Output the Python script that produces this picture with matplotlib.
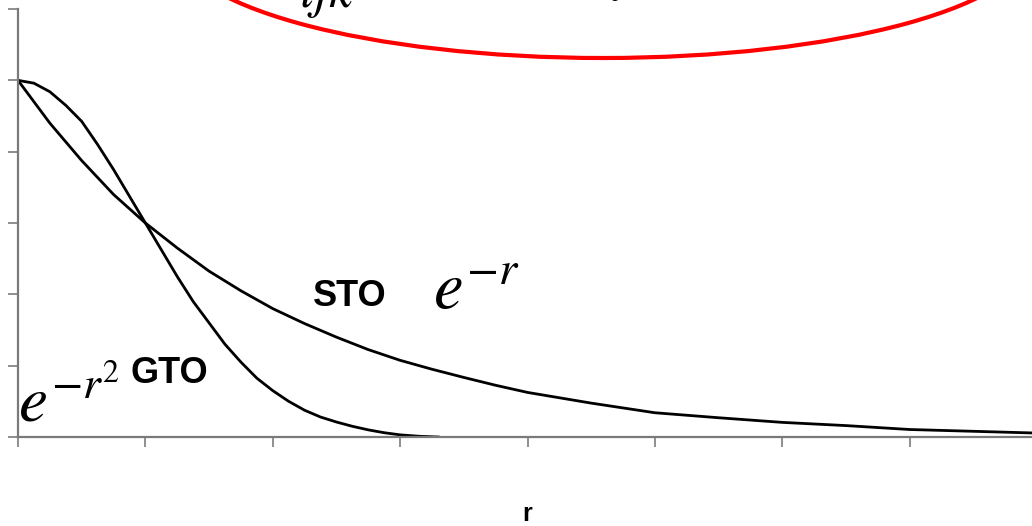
import matplotlib.pyplot as plt
from matplotlib.patches import Ellipse

# radius values (tick units) and the two basis functions
r_sto = [0, 0.25, 0.5, 0.75, 1.0, 1.25, 1.5, 1.75, 2.0, 2.25, 2.5, 2.75, 3.0, 3.25,
         3.5, 3.75, 4.0, 4.5, 5.0, 5.5, 6.0, 6.5, 7.0, 7.5, 8.0]
sto = [1.0, 0.88, 0.775, 0.68, 0.60, 0.53, 0.465, 0.41, 0.36, 0.318, 0.28, 0.245, 0.215, 0.19,
       0.167, 0.145, 0.125, 0.095, 0.068, 0.054, 0.041, 0.032, 0.021, 0.016, 0.011]

r_gto = [0, 0.125, 0.25, 0.375, 0.5, 0.625, 0.75, 0.875, 1.0, 1.125, 1.25, 1.375, 1.5,
         1.625, 1.75, 1.875, 2.0, 2.125, 2.25, 2.375, 2.5, 2.625, 2.75, 2.875, 3.0, 3.15, 3.3]
gto = [1.0, 0.992, 0.968, 0.93, 0.885, 0.82, 0.75, 0.675, 0.60, 0.525, 0.45, 0.38, 0.32,
       0.26, 0.21, 0.165, 0.13, 0.10, 0.075, 0.056, 0.042, 0.03, 0.02, 0.012, 0.006, 0.002, 0.0]

x_ticks = [0, 1, 2, 3, 4, 5, 6, 7, 8]
y_ticks = [0, 0.2, 0.4, 0.6, 0.8, 1.0, 1.2]

W, H = 1032, 526
fig = plt.figure(figsize=(W / 100, H / 100), dpi=100)
ax = fig.add_axes([18 / W, 1 - 437 / H, 1019 / W, 428 / H])

ax.plot(r_sto, sto, color='black', lw=2.0)
ax.plot(r_gto, gto, color='black', lw=2.0)

ax.set_xlim(0, 8)
ax.set_ylim(0, 1.2)
ax.set_xticks(x_ticks)
ax.set_yticks(y_ticks)
ax.set_xticklabels([])
ax.set_yticklabels([])
ax.tick_params(direction='out', length=7, width=1.1, color='#707070')
for s in ['top', 'right']:
    ax.spines[s].set_visible(False)
for s in ['left', 'bottom']:
    ax.spines[s].set_color('#7a7a7a')
    ax.spines[s].set_linewidth(1.6)

ax.set_xlabel('r', fontsize=18, fontweight='bold', family='Liberation Sans', labelpad=36)

# labels on the curves
fig.text(313 / W, 1 - 306 / H, 'STO', fontsize=26, fontweight='bold', family='Liberation Sans')
fig.text(433 / W, 1 - 308 / H, r'$e^{-r}$', fontsize=48, math_fontfamily='stix')
fig.text(130 / W, 1 - 383 / H, 'GTO', fontsize=26, fontweight='bold', family='Liberation Sans')
fig.text(18 / W, 1 - 422 / H, r'$e^{-r^2}$', fontsize=47, math_fontfamily='stix')

# red ellipse with the formula mostly cut off at the top
ell = Ellipse((603 / W, 1 + 60 / H), 2 * 429.5 / W, 2 * 118 / H, transform=fig.transFigure,
              fill=False, edgecolor='red', lw=3)
fig.add_artist(ell)
fig.text(245 / W, 1 + 1 / H, r'$G_{ijk} = N$', fontsize=54,
         math_fontfamily='stix', va='baseline')
fig.text(555 / W, 1 + 13 / H, r'$x^i y^j z^k e^{-\alpha r^2}$', fontsize=54,
         math_fontfamily='stix', va='baseline')

fig.savefig('out.png', dpi=100)
